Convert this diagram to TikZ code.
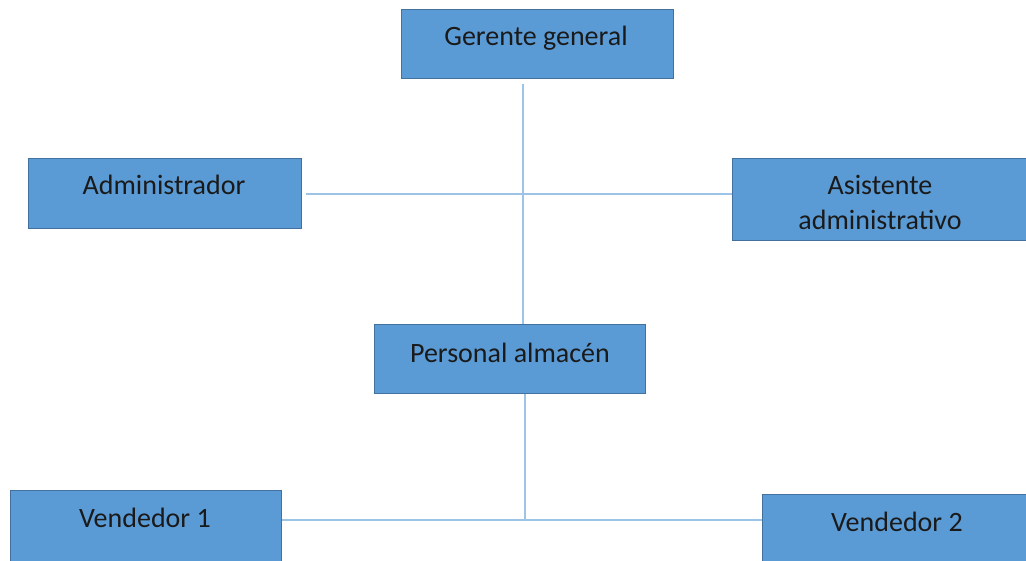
\documentclass[tikz,border=0pt]{standalone}
\usepackage{fontspec}
\setmainfont{Carlito}
\definecolor{boxfill}{HTML}{5B9BD5}
\definecolor{boxline}{HTML}{41719C}
\definecolor{connline}{HTML}{9DC3E6}
\definecolor{txt}{HTML}{1A1A1A}
\tikzset{
  orgbox/.style={draw=boxline, fill=boxfill, line width=1.2pt, anchor=north west, inner sep=0pt},
  orgtext/.style={text=txt, font=\fontsize{28}{35}\selectfont, align=center, inner sep=0pt},
  conn/.style={draw=connline, line width=2.2pt}
}
\begin{document}
\begin{tikzpicture}[x=1pt,y=-1pt]
\useasboundingbox (0,0) rectangle (1026,560);
\clip (0,0) rectangle (1026,560);
\fill[white] (0,0) rectangle (1026,560);
% boxes
\node[orgbox, minimum width=272pt, minimum height=69pt] (gg) at (401,9) {};
\node[orgbox, minimum width=273pt, minimum height=70pt] (adm) at (28,158) {};
\node[orgbox, minimum width=300pt, minimum height=82pt] (asi) at (732,158) {};
\node[orgbox, minimum width=271pt, minimum height=69pt] (pa) at (374,324) {};
\node[orgbox, minimum width=271pt, minimum height=75pt] (v1) at (10,490) {};
\node[orgbox, minimum width=270pt, minimum height=75pt] (v2) at (762,494) {};
% texts
\node[orgtext] (tgg) at (536,38) {Gerente general};
\node[orgtext] (tadm) at (164,185) {Administrador};
\node[orgtext] (tasi) at (880,202) {Asistente\\administrativo};
\node[orgtext] (tpa) at (510,353) {Personal almacén};
\node[orgtext] (tv1) at (145,518) {Vendedor 1};
\node[orgtext] (tv2) at (897,522) {Vendedor 2};
% connectors
\coordinate (top) at (523,84);
\coordinate (midA) at (523,194);
\coordinate (midB) at (525,520);
\draw[conn] (top) -- (523,324);
\draw[conn] (adm.east |- midA) ++(4,0) -- (asi.west |- midA);
\draw[conn] (pa.south -| midB) -- (midB);
\draw[conn] (v1.east |- midB) -- (v2.west |- midB);
\end{tikzpicture}
\end{document}
